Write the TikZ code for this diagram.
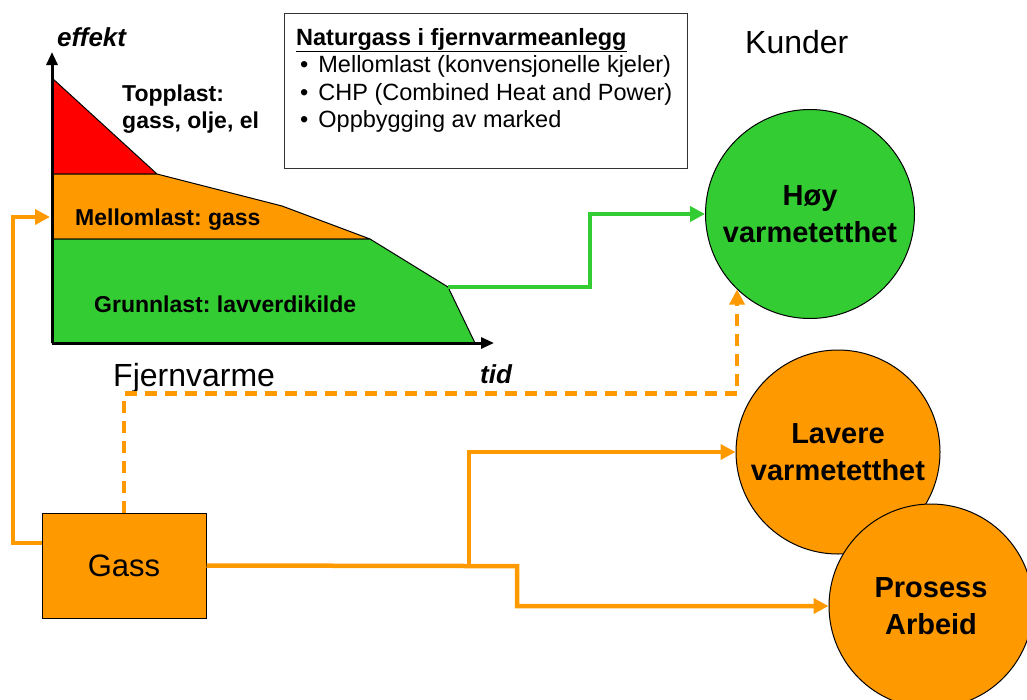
\documentclass[tikz,border=0pt]{standalone}
\usepackage{fontspec}
\setmainfont{Liberation Sans}
\usetikzlibrary{arrows.meta}
\definecolor{gasorange}{HTML}{FF9900}
\definecolor{basegreen}{HTML}{33CC33}
\frenchspacing

\begin{document}
\begin{tikzpicture}[x=1pt, y=-1pt,
    flow/.style={line width=4.5pt, -{Triangle[length=15pt,width=15pt]}},
    area/.style={draw=black, line width=1pt, line join=round},
    axis/.style={line width=3pt, -{Triangle[length=13pt,width=11pt]}},
    chartlabel/.style={inner sep=0pt, align=left, font=\fontsize{23}{27}\selectfont\bfseries},
    customer/.style={circle, draw=black, line width=1pt, inner sep=0pt, align=center, font=\fontsize{29}{37}\selectfont\bfseries}]
  \clip (0,0) rectangle (1027,699);

  % varighetskurve
  \filldraw[fill=red, area] (52,78) -- (157,174) -- (52,174) -- cycle;
  \filldraw[fill=gasorange, area] (52,174) -- (157,174) -- (282,206) -- (370,239) -- (52,239) -- cycle;
  \filldraw[fill=basegreen, area] (52,239) -- (370,239) -- (448,287) -- (475,343) -- (52,343) -- cycle;
  \coordinate (origo) at (52,343);
  \coordinate (gtip) at (448,287);
  \coordinate (ymid) at (50,217);
  \draw[axis] (origo) -- (52,52);
  \draw[axis] (origo) -- (494,343);

  \node[chartlabel, anchor=north west] (topplast) at (122,85) {Topplast:\\gass, olje, el};
  \node[chartlabel, anchor=base west] (mellomlast) at (75,225) {Mellomlast: gass};
  \node[chartlabel, anchor=base west] (grunnlast) at (94,312) {Grunnlast: lavverdikilde};
  \node[inner sep=0pt, anchor=base west, font=\fontsize{26}{30}\selectfont\bfseries\itshape] (effekt) at (57,46) {effekt};
  \node[inner sep=0pt, anchor=base west, font=\fontsize{26}{30}\selectfont\bfseries\itshape] (tid) at (480,383) {tid};
  \node[inner sep=0pt, anchor=base west, font=\fontsize{32}{36}\selectfont] (fjernvarme) at (113,386) {Fjernvarme};
  \node[inner sep=0pt, anchor=base west, font=\fontsize{32}{36}\selectfont] (kunder) at (745,53) {Kunder};

  % tekstboks
  \node[draw=black!80, line width=1.2pt, minimum width=403pt, minimum height=155pt, anchor=north west, inner sep=0pt] (info) at (284,13) {};
  \node[anchor=north west, inner sep=0pt, align=left, font=\fontsize{23.5}{27.5}\selectfont] (infotext) at ([xshift=12pt,yshift=-15pt]info.north west)
    {\underline{\textbf{Naturgass i fjernvarmeanlegg}}\\
     \hspace{4pt}\textbullet\hspace{10pt}Mellomlast (konvensjonelle kjeler)\\
     \hspace{4pt}\textbullet\hspace{10pt}CHP (Combined Heat and Power)\\
     \hspace{4pt}\textbullet\hspace{10pt}Oppbygging av marked};

  % kunder
  \node[customer, fill=basegreen, minimum size=209pt] (hoy) at (810,214) {Høy\\varmetetthet};
  \node[customer, fill=gasorange, minimum size=204pt] (lavere) at (838,452) {Lavere\\varmetetthet};
  \node[customer, fill=gasorange, minimum size=204pt] (prosess) at (931,606) {Prosess\\Arbeid};

  \node[draw=black, line width=1pt, fill=gasorange, minimum width=164pt, minimum height=105pt, font=\fontsize{31}{36}\selectfont] (gass) at (124,565.5) {Gass};

  % forbindelser
  \coordinate (split) at (469,566);
  \draw[flow, basegreen] (gtip) -- (590,287) |- (hoy.west);
  \draw[flow, gasorange] ([yshift=22.5pt]gass.west) -| (13,217) -- (ymid);
  \draw[flow, gasorange, dash pattern=on 12pt off 8pt] (gass.north) -- ++(0,-119) -| (hoy.-134);
  \draw[flow, gasorange] (gass.east) -- (split) -- (517,566) |- (prosess.west);
  \draw[flow, gasorange] (split) |- (lavere.west);
\end{tikzpicture}
\end{document}
